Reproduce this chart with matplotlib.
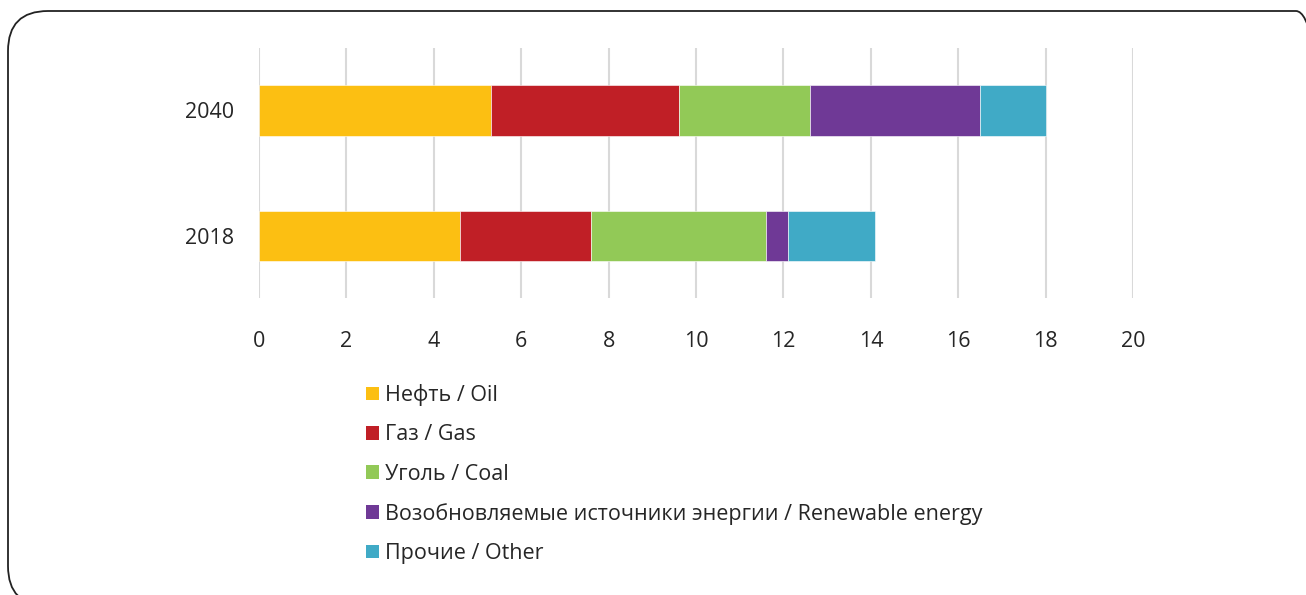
import numpy as np
import matplotlib.pyplot as plt
from matplotlib.patches import Patch, FancyBboxPatch
from matplotlib.transforms import IdentityTransform

plt.rcParams['font.family'] = ['Open Sans', 'DejaVu Sans']

years = ['2018', '2040']
labels = ['Нефть / Oil', 'Газ / Gas', 'Уголь / Coal',
          'Возобновляемые источники энергии / Renewable energy',
          'Прочие / Other']
oil = [4.6, 5.3]
gas = [3.0, 4.3]
coal = [4.0, 3.0]
renewable = [0.5, 3.9]
other = [2.0, 1.5]
xticks = [0, 2, 4, 6, 8, 10, 12, 14, 16, 18, 20]

colors = ['#FCBF12', '#C01F26', '#92C957', '#6F3996', '#40AAC6']
text_color = '#262626'
fs = 15.5

fig = plt.figure(figsize=(13.06, 5.95), dpi=100)

# Рамка со скруглёнными углами (в пикселях)
frame = FancyBboxPatch((8, -11), 1328, 595,
                       boxstyle='round,pad=0,rounding_size=40',
                       transform=IdentityTransform(), facecolor='none',
                       edgecolor='#222222', linewidth=1.3)
fig.patches.append(frame)

ax = fig.add_axes([259 / 1306, 1 - 298 / 595, 874 / 1306, 250 / 595])

y = np.arange(len(years))
left = np.zeros(len(years))
for vals, col, lab in zip([oil, gas, coal, renewable, other], colors, labels):
    ax.barh(y, vals, left=left, height=0.4, color=col, label=lab,
            edgecolor='white', linewidth=0.4, zorder=3)
    left += np.array(vals)

ax.set_xlim(0, 20)
ax.set_ylim(-0.5, 1.5)
ax.set_xticks(xticks)
ax.set_yticks(y)
ax.set_yticklabels(years)
ax.grid(axis='x', color='#D9D9D9', linewidth=1.5, zorder=0)
for s in ax.spines.values():
    s.set_visible(False)
ax.tick_params(axis='both', length=0, labelsize=fs, colors=text_color)
ax.tick_params(axis='x', pad=24)
ax.tick_params(axis='y', pad=18)

handles = [Patch(facecolor=c, edgecolor='none') for c in colors]
fig.legend(handles, labels, loc='upper left',
           bbox_to_anchor=(366 / 1306, 1 - 384 / 595), frameon=False,
           fontsize=fs, labelcolor=text_color, handlelength=0.6,
           handleheight=0.6, handletextpad=0.3, labelspacing=0.85,
           borderaxespad=0, borderpad=0)

plt.savefig('out.png', dpi=100)
